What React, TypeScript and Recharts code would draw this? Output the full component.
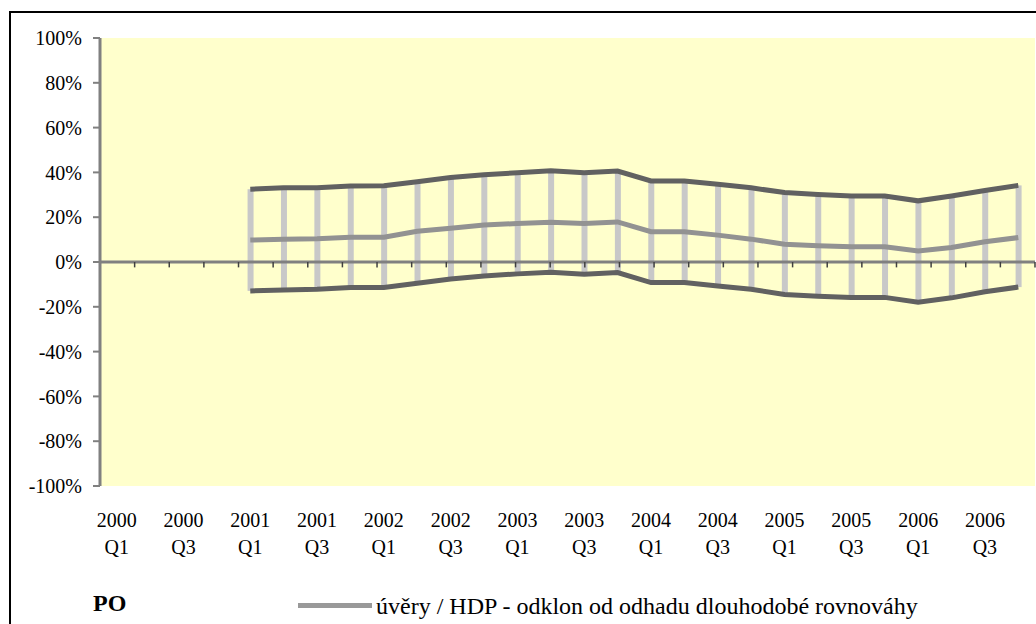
import { ComposedChart, Line, Bar, XAxis, YAxis, CartesianGrid, ReferenceLine } from "recharts";

const FONT = "'Liberation Serif', 'Times New Roman', serif";

const years = ["2000", "2001", "2002", "2003", "2004", "2005", "2006"];
const quarterNames = ["Q1", "Q2", "Q3", "Q4"];
const categories = years.flatMap((y) => quarterNames.map((q) => `${y} ${q}`));

// upper / lower band of the estimate and the central deviation, in %
const upperBand = [
  null, null, null, null,
  32.5, 33.1, 33.1, 33.9, 34.0, 35.8, 37.7, 39.0, 39.8, 40.7, 39.8, 40.6,
  36.2, 36.2, 34.7, 33.1, 31.0, 30.1, 29.5, 29.5, 27.3, 29.5, 31.9, 34.2,
];
const deviation = [
  null, null, null, null,
  9.8, 10.2, 10.4, 11.0, 11.1, 13.7, 15.1, 16.5, 17.2, 17.8, 17.2, 17.9,
  13.5, 13.5, 12.0, 10.2, 7.9, 7.3, 6.8, 6.8, 4.9, 6.5, 9.0, 10.9,
];
const lowerBand = [
  null, null, null, null,
  -12.9, -12.5, -12.2, -11.4, -11.4, -9.5, -7.6, -6.2, -5.3, -4.6, -5.5, -4.7,
  -9.2, -9.2, -10.7, -12.2, -14.5, -15.3, -15.8, -15.8, -18.0, -16.0, -13.3, -11.2,
];

const yTicks = [-100, -80, -60, -40, -20, 0, 20, 40, 60, 80, 100];
// small tick marks hanging from the zero axis, at category boundaries
const boundaries = [1, 2, 3, 4, 5, 6, 7, 8, 9, 10, 11, 12, 13, 14, 15, 16, 17, 18, 19, 20, 21, 22, 23, 24, 25, 26, 27, 28];

const legendLabel = "úvěry / HDP - odklon od odhadu dlouhodobé rovnováhy";

const data = categories.map((q, i) => ({
  q,
  upper: upperBand[i],
  mid: deviation[i],
  lower: lowerBand[i],
  range: upperBand[i] === null ? null : [lowerBand[i], upperBand[i]],
}));

function QuarterTick({ x, y, payload }: any) {
  const [yr, qt] = String(payload.value).split(" ");
  return (
    <g>
      <text x={x} y={y + 41} textAnchor="middle" fontSize={20} fontFamily={FONT} fill="#000">
        {yr}
      </text>
      <text x={x} y={y + 68} textAnchor="middle" fontSize={20} fontFamily={FONT} fill="#000">
        {qt}
      </text>
    </g>
  );
}

export default function App() {
  return (
    <div
      style={{
        position: "absolute",
        left: 0,
        top: 0,
        width: 1036,
        height: 624,
        background: "#fff",
        overflow: "hidden",
        fontFamily: FONT,
      }}
    >
      <div
        style={{
          position: "absolute",
          left: 9,
          top: 11,
          width: 1100,
          height: 700,
          border: "2px solid #000",
          boxSizing: "border-box",
        }}
      />
      <div style={{ position: "absolute", left: 0, top: 0 }}>
        <ComposedChart
          width={1036}
          height={624}
          data={data}
          margin={{ top: 38, right: 1, bottom: 108, left: 0 }}
          barCategoryGap={0}
        >
          <CartesianGrid fill="#ffffcc" horizontal={false} vertical={false} />
          <XAxis
            dataKey="q"
            interval={1}
            height={30}
            tickSize={0}
            tickMargin={0}
            axisLine={false}
            tickLine={false}
            tick={<QuarterTick />}
          />
          <XAxis xAxisId="edges" type="number" domain={[0, 28]} hide />
          <YAxis
            domain={[-100, 100]}
            ticks={yTicks}
            interval={0}
            width={100}
            tickSize={7}
            tickMargin={11}
            tickFormatter={(v) => `${v}%`}
            tick={{ fontSize: 20, fill: "#000", fontFamily: FONT }}
            tickLine={{ stroke: "#808080", strokeWidth: 2 }}
            axisLine={{ stroke: "#808080", strokeWidth: 3 }}
          />
          <ReferenceLine y={0} stroke="#808080" strokeWidth={3} />
          {boundaries.map((k) => (
            <ReferenceLine
              key={k}
              xAxisId="edges"
              segment={[
                { x: k, y: 0 },
                { x: k, y: -2.4 },
              ]}
              stroke="#404040"
              strokeWidth={1.5}
            />
          ))}
          <Line
            type="linear"
            dataKey="mid"
            stroke="#929292"
            strokeWidth={5}
            dot={false}
            isAnimationActive={false}
          />
          <Bar dataKey="range" barSize={6} fill="#c8c8c8" isAnimationActive={false} />
          <Line
            type="linear"
            dataKey="upper"
            stroke="#616161"
            strokeWidth={5}
            dot={false}
            isAnimationActive={false}
          />
          <Line
            type="linear"
            dataKey="lower"
            stroke="#616161"
            strokeWidth={5}
            dot={false}
            isAnimationActive={false}
          />
        </ComposedChart>
      </div>
      <div
        style={{
          position: "absolute",
          left: 93,
          top: 589,
          fontSize: 24,
          fontWeight: "bold",
          lineHeight: "28px",
        }}
      >
        PO
      </div>
      <div
        style={{
          position: "absolute",
          left: 298,
          top: 603,
          width: 74,
          height: 5,
          background: "#999",
        }}
      />
      <div
        style={{
          position: "absolute",
          left: 376,
          top: 592,
          fontSize: 24,
          lineHeight: "28px",
          whiteSpace: "nowrap",
        }}
      >
        {legendLabel}
      </div>
    </div>
  );
}
